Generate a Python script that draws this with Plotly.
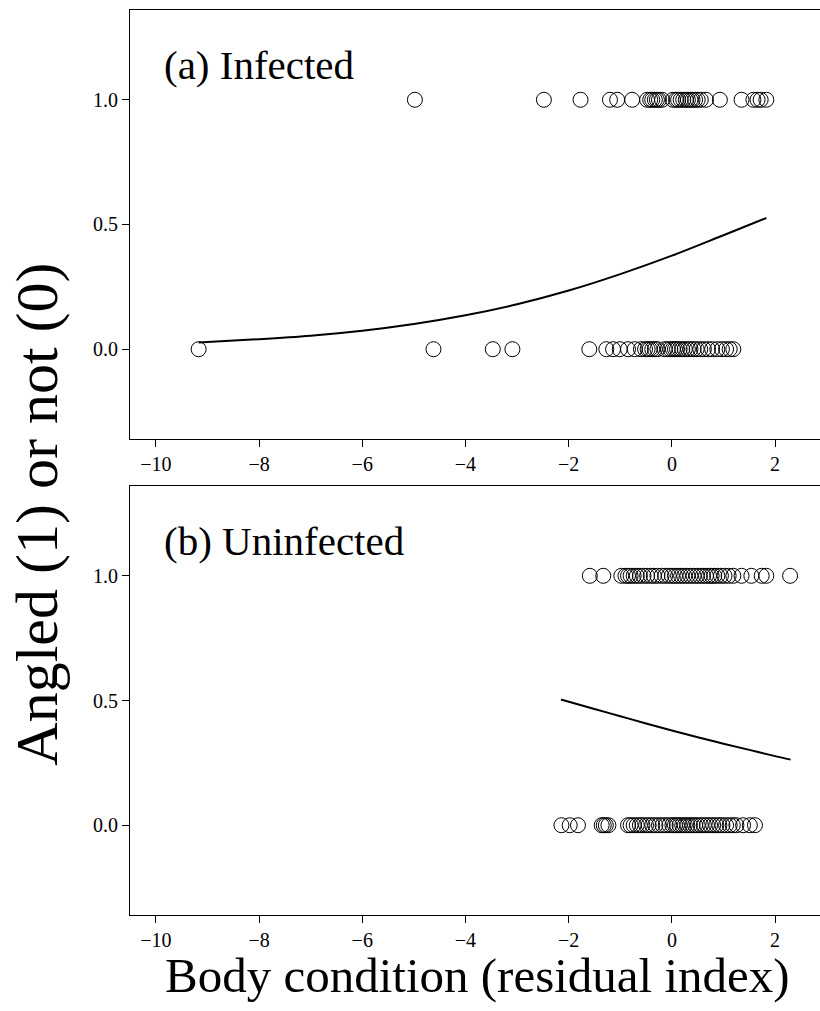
import plotly.graph_objects as go
from plotly.subplots import make_subplots

# Body condition (residual index) of birds, split by infection status and
# whether the bird was angled (1) or not (0).
infected_angled = [-4.98, -2.48, -1.77, -1.20, -1.06, -0.77, -0.48, -0.42, -0.38, -0.33,
                   -0.29, -0.25, -0.19, 0.02, 0.08, 0.12, 0.17, 0.22, 0.27, 0.31,
                   0.36, 0.40, 0.45, 0.50, 0.56, 0.66, 0.93, 1.35, 1.58, 1.66, 1.72, 1.83]
infected_not = [-9.17, -4.62, -3.47, -3.09, -1.60, -1.27, -1.14, -1.01, -0.85, -0.72,
                -0.60, -0.52, -0.47, -0.43, -0.38, -0.33, -0.28, -0.14, -0.08, -0.03,
                0.02, 0.06, 0.10, 0.15, 0.20, 0.25, 0.31, 0.36, 0.42, 0.48,
                0.55, 0.62, 0.70, 0.78, 0.88, 0.97, 1.05, 1.12, 1.19]
uninfected_angled = [-1.59, -1.33, -0.98, -0.90, -0.85, -0.80, -0.74, -0.68, -0.62, -0.55,
                     -0.48, -0.41, -0.35, -0.28, -0.20, -0.13, -0.06, 0.00, 0.06, 0.12,
                     0.18, 0.24, 0.30, 0.36, 0.42, 0.48, 0.54, 0.60, 0.66, 0.72,
                     0.77, 0.82, 0.88, 0.95, 1.02, 1.10, 1.19, 1.35, 1.54, 1.74, 1.83, 2.29]
uninfected_not = [-2.14, -1.98, -1.82, -1.36, -1.32, -1.28, -1.23, -0.85, -0.80, -0.74,
                  -0.68, -0.62, -0.57, -0.50, -0.45, -0.38, -0.32, -0.25, -0.18, -0.12,
                  -0.05, 0.01, 0.06, 0.10, 0.15, 0.20, 0.25, 0.30, 0.35, 0.40,
                  0.45, 0.50, 0.56, 0.62, 0.68, 0.74, 0.80, 0.86, 0.92, 0.98,
                  1.05, 1.12, 1.18, 1.25, 1.38, 1.51, 1.61]

# Fitted probability of being angled along body condition
fit_inf_x = [-9.17, -8, -7, -6, -5, -4, -3, -2, -1, 0, 1, 1.83]
fit_inf_p = [0.027, 0.040, 0.054, 0.074, 0.101, 0.136, 0.180, 0.235, 0.301, 0.375, 0.457, 0.526]
fit_uninf_x = [-2.15, -1.5, -1, -0.5, 0, 0.5, 1, 1.5, 2, 2.30]
fit_uninf_p = [0.504, 0.466, 0.437, 0.408, 0.380, 0.353, 0.327, 0.302, 0.277, 0.263]

x_ticks = [-10, -8, -6, -4, -2, 0, 2]
y_ticks = [0.0, 0.5, 1.0]
y_tick_text = ["0.0", "0.5", "1.0"]
panel_titles = ["(a) Infected", "(b) Uninfected"]

FONT = "Liberation Serif"

fig = make_subplots(rows=2, cols=1, vertical_spacing=0.052)

panels = [
    (infected_angled, infected_not, fit_inf_x, fit_inf_p),
    (uninfected_angled, uninfected_not, fit_uninf_x, fit_uninf_p),
]

marker = dict(symbol="circle-open", size=15, color="black", line=dict(width=1, color="black"))

for row, (ang, nang, fx, fp) in enumerate(panels, start=1):
    fig.add_trace(go.Scatter(x=ang, y=[1.0] * len(ang), mode="markers",
                             marker=marker, showlegend=False), row=row, col=1)
    fig.add_trace(go.Scatter(x=nang, y=[0.0] * len(nang), mode="markers",
                             marker=marker, showlegend=False), row=row, col=1)
    fig.add_trace(go.Scatter(x=fx, y=fp, mode="lines", line=dict(color="black", width=2, shape="spline"),
                             showlegend=False), row=row, col=1)

axis_common = dict(showline=True, linecolor="black", linewidth=1, ticks="outside",
                   ticklen=7, tickcolor="black", tickwidth=1, showgrid=False, zeroline=False,
                   tickfont=dict(family=FONT, size=20, color="black"))

for row in (1, 2):
    fig.update_xaxes(range=[-10.5, 2.87], tickvals=x_ticks, mirror=True, **axis_common,
                     row=row, col=1)
    fig.update_yaxes(range=[-0.36, 1.36], tickvals=y_ticks, ticktext=y_tick_text,
                     mirror=False, **axis_common, row=row, col=1)

fig.update_layout(
    width=820, height=1011,
    margin=dict(l=130, r=0, t=10, b=96),
    plot_bgcolor="white", paper_bgcolor="white",
    font=dict(family=FONT, color="black"),
)

for i, title in enumerate(panel_titles):
    axis = "x" if i == 0 else "x2"
    yaxis = "y" if i == 0 else "y2"
    fig.add_annotation(text=title, xref=f"{axis} domain", yref=f"{yaxis} domain",
                       x=0.047, y=0.872, xanchor="left", yanchor="middle", showarrow=False,
                       font=dict(family=FONT, size=41, color="black"))

fig.add_annotation(text="Body condition (residual index)", xref="paper", yref="paper",
                   x=0.503, y=-0.067, xanchor="center", yanchor="middle", showarrow=False,
                   font=dict(family=FONT, size=49, color="black"))
fig.add_annotation(text="Angled (1) or not (0)", xref="paper", yref="paper",
                   x=-0.134, y=0.443, xanchor="center", yanchor="middle", textangle=-90,
                   showarrow=False, font=dict(family=FONT, size=60, color="black"))

fig.write_html("out.html")
